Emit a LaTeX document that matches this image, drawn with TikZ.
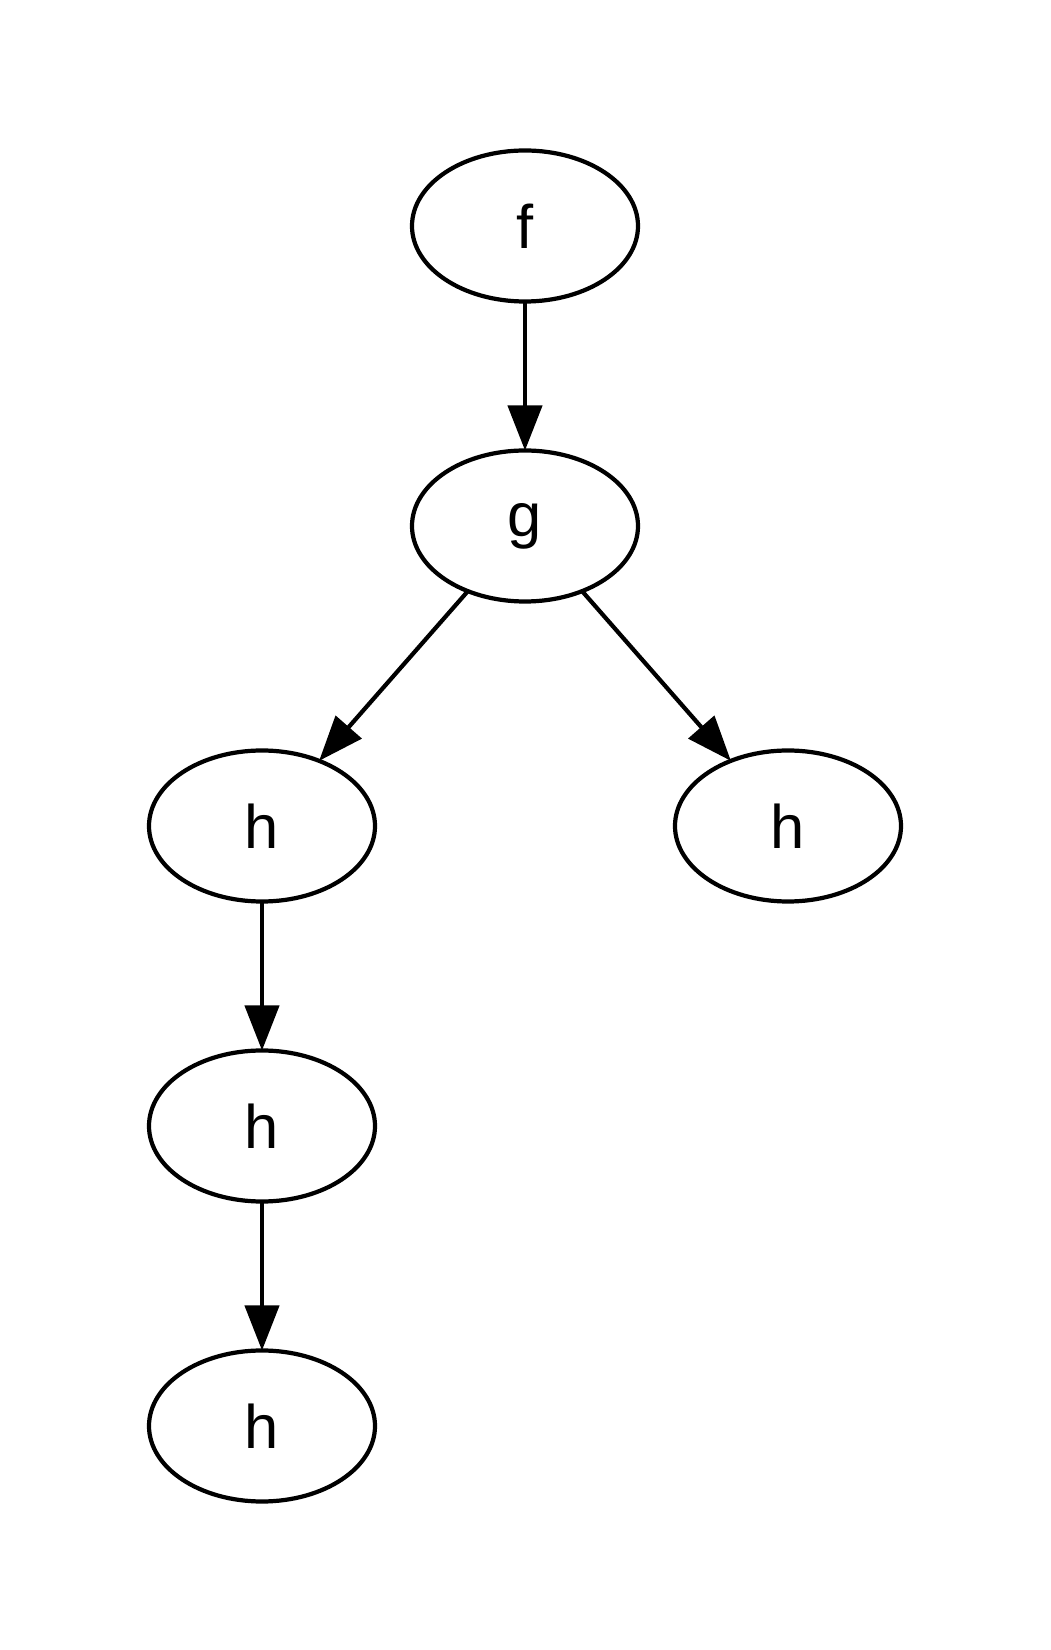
\documentclass[tikz,border=0pt]{standalone}
\usepackage{fontspec}
\setmainfont{Liberation Sans}
\usetikzlibrary{arrows.meta,positioning,shapes.geometric}
\tikzset{
  fn/.style  = {draw=black, ellipse, line width=1.2pt, inner sep=0pt, outer sep=0pt,
                minimum width=2.26cm, minimum height=1.51cm, font=\fontsize{17.5}{20}\selectfont},
  arr/.style = {-{Triangle[length=4.5mm,width=3.4mm]}, draw=black, line width=1.2pt},
}
\begin{document}
\begin{tikzpicture}[node distance=1.49cm]
  \useasboundingbox (0,0) rectangle (10.5,16.5);
  \node[fn] (f) at (5.25,14.24) {f};
  \node[fn, below=of f] (g) {g};
  \node[fn, below=of g, xshift=-2.63cm] (h1) {h};
  \node[fn, below=of g, xshift=2.63cm] (h2) {h};
  \node[fn, below=of h1] (h3) {h};
  \node[fn, below=of h3] (h4) {h};
  \draw[arr] (f) -- (g);
  \draw[arr] (g) -- (h1);
  \draw[arr] (g) -- (h2);
  \draw[arr] (h1) -- (h3);
  \draw[arr] (h3) -- (h4);
\end{tikzpicture}
\end{document}
